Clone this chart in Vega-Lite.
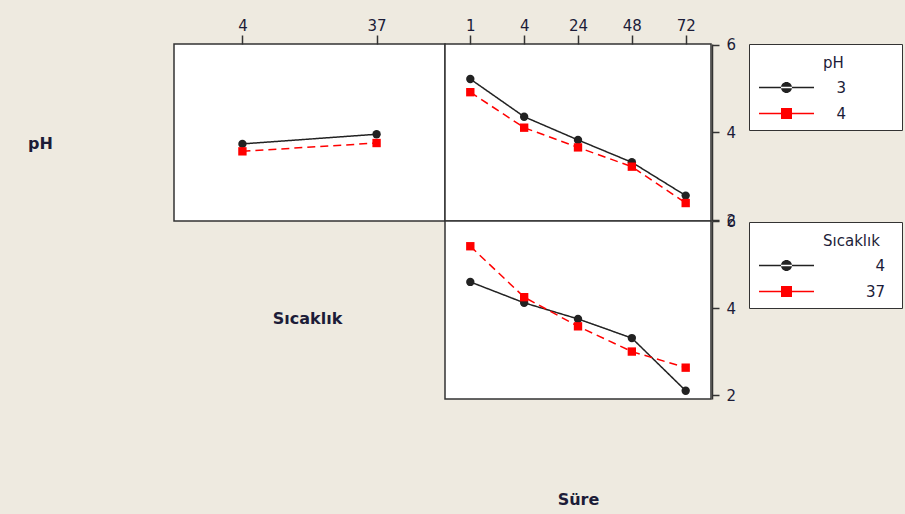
{
  "$schema": "https://vega.github.io/schema/vega-lite/v6.json",
  "background": "#EEEAE0",
  "padding": {"left": 26, "top": 17, "right": 2, "bottom": 10},
  "config": {
    "font": "DejaVu Sans",
    "view": {"stroke": "#333333", "strokeWidth": 1.5, "fill": "white"},
    "axis": {
      "labelFont": "DejaVu Sans", "labelFontSize": 15, "labelColor": "#1c1c38",
      "tickColor": "#333333", "domainColor": "#333333", "tickWidth": 1.5, "domainWidth": 1.5,
      "grid": false,
      "titleFont": "DejaVu Sans", "titleFontSize": 16, "titleFontWeight": "bold", "titleColor": "#1c1c38"
    },
    "legend": {
      "labelFont": "DejaVu Sans", "labelFontSize": 15, "labelColor": "#1c1c38",
      "titleFont": "DejaVu Sans", "titleFontSize": 15, "titleFontWeight": "normal", "titleColor": "#1c1c38",
      "strokeColor": "#333333", "fillColor": "white", "padding": 8,
      "rowPadding": 10, "titlePadding": 13, "symbolSize": 121, "labelAlign": "right"
    }
  },
  "datasets": {
    "phTemp": [
      {"Sicaklik": "4", "pH": "3", "mean": 3.74},
      {"Sicaklik": "37", "pH": "3", "mean": 3.96},
      {"Sicaklik": "4", "pH": "4", "mean": 3.57},
      {"Sicaklik": "37", "pH": "4", "mean": 3.76}
    ],
    "phTime": [
      {"Sure": "1", "pH": "3", "mean": 5.22},
      {"Sure": "4", "pH": "3", "mean": 4.36},
      {"Sure": "24", "pH": "3", "mean": 3.83},
      {"Sure": "48", "pH": "3", "mean": 3.32},
      {"Sure": "72", "pH": "3", "mean": 2.56},
      {"Sure": "1", "pH": "4", "mean": 4.92},
      {"Sure": "4", "pH": "4", "mean": 4.11},
      {"Sure": "24", "pH": "4", "mean": 3.66},
      {"Sure": "48", "pH": "4", "mean": 3.22},
      {"Sure": "72", "pH": "4", "mean": 2.39}
    ],
    "tempTime": [
      {"Sure": "1", "Sicaklik": "4", "mean": 4.60},
      {"Sure": "4", "Sicaklik": "4", "mean": 4.12},
      {"Sure": "24", "Sicaklik": "4", "mean": 3.75},
      {"Sure": "48", "Sicaklik": "4", "mean": 3.31},
      {"Sure": "72", "Sicaklik": "4", "mean": 2.10},
      {"Sure": "1", "Sicaklik": "37", "mean": 5.42},
      {"Sure": "4", "Sicaklik": "37", "mean": 4.25},
      {"Sure": "24", "Sicaklik": "37", "mean": 3.58},
      {"Sure": "48", "Sicaklik": "37", "mean": 3.00},
      {"Sure": "72", "Sicaklik": "37", "mean": 2.63}
    ]
  },
  "columns": 2,
  "spacing": 0,
  "bounds": "flush",
  "align": "each",
  "resolve": {
    "scale": {"x": "independent", "y": "independent", "color": "independent", "strokeDash": "independent"},
    "legend": {"color": "independent", "strokeDash": "independent"}
  },
  "concat": [
    {
      "width": 271, "height": 177,
      "data": {"name": "phTemp"},
      "encoding": {
        "x": {"field": "Sicaklik", "type": "ordinal",
          "scale": {"type": "point", "domain": ["4", "37"], "padding": 0.51},
          "axis": {"orient": "top", "title": null, "labelAngle": 0, "tickSize": 9, "labelPadding": 2, "domain": false}},
        "y": {"field": "mean", "type": "quantitative",
          "scale": {"domain": [1.98, 6.02], "nice": false, "zero": false},
          "axis": {"orient": "left", "labels": false, "ticks": false, "domain": false, "title": "pH",
            "titleAngle": 0, "titleX": -134, "titleY": 99, "titleAlign": "center", "titleBaseline": "middle"}},
        "color": {"field": "pH", "type": "nominal", "scale": {"domain": ["3", "4"], "range": ["#222222", "#ff0000"]}, "legend": null}
      },
      "layer": [
        {"mark": {"type": "line", "strokeWidth": 1.5},
         "encoding": {"strokeDash": {"field": "pH", "type": "nominal", "scale": {"domain": ["3", "4"], "range": [[1, 0], [8, 5]]}, "legend": null}}},
        {"transform": [{"filter": "datum.pH == '3'"}],
         "mark": {"type": "point", "filled": true, "size": 70, "opacity": 1, "shape": "circle"}},
        {"transform": [{"filter": "datum.pH == '4'"}],
         "mark": {"type": "point", "filled": true, "size": 70, "opacity": 1, "shape": "square"}}
      ]
    },
    {
      "width": 266, "height": 177,
      "data": {"name": "phTime"},
      "encoding": {
        "x": {"field": "Sure", "type": "ordinal",
          "scale": {"type": "point", "domain": ["1", "4", "24", "48", "72"], "padding": 0.47},
          "axis": {"orient": "top", "title": null, "labelAngle": 0, "tickSize": 9, "labelPadding": 2, "domain": false}},
        "y": {"field": "mean", "type": "quantitative",
          "scale": {"domain": [1.98, 6.02], "nice": false, "zero": false},
          "axis": {"orient": "right", "values": [2, 4, 6], "title": null, "tickSize": 7, "labelPadding": 7, "offset": 1}},
        "color": {"field": "pH", "type": "nominal", "scale": {"domain": ["3", "4"], "range": ["#222222", "#ff0000"]},
          "legend": {"title": "pH", "orient": "none", "legendX": 304, "legendY": 0, "labelOffset": 74, "titleAnchor": "start",
            "encoding": {
              "title": {"dx": {"value": 66}, "dy": {"value": 4}},
              "symbols": {
                "shape": {"value": {"expr": "datum.index === 0 ? 'M-1,-0.14H9V0.14H-1ZM3,0A1,1 0 1,0 5,0A1,1 0 1,0 3,0ZM23.5,0' : 'M-1,-0.14H9V0.14H-1ZM3,-1H5V1H3ZM23.5,0'"}},
                "fill": {"value": {"expr": "datum.index === 0 ? '#222222' : '#ff0000'"}},
                "strokeWidth": {"value": 0},
                "opacity": {"value": 1}
              }
            }}}
      },
      "layer": [
        {"mark": {"type": "line", "strokeWidth": 1.5},
         "encoding": {"strokeDash": {"field": "pH", "type": "nominal", "scale": {"domain": ["3", "4"], "range": [[1, 0], [8, 5]]}, "legend": null}}},
        {"transform": [{"filter": "datum.pH == '3'"}],
         "mark": {"type": "point", "filled": true, "size": 70, "opacity": 1, "shape": "circle"}},
        {"transform": [{"filter": "datum.pH == '4'"}],
         "mark": {"type": "point", "filled": true, "size": 70, "opacity": 1, "shape": "square"}}
      ]
    },
    {
      "width": 271, "height": 178,
      "view": {"stroke": null, "fill": null},
      "data": {"values": [{"label": "Sıcaklık"}]},
      "mark": {"type": "text", "font": "DejaVu Sans", "fontSize": 16, "fontWeight": "bold", "color": "#1c1c38", "dy": 9, "dx": -2},
      "encoding": {"text": {"field": "label", "type": "nominal"}}
    },
    {
      "width": 266, "height": 178,
      "data": {"name": "tempTime"},
      "encoding": {
        "x": {"field": "Sure", "type": "ordinal",
          "scale": {"type": "point", "domain": ["1", "4", "24", "48", "72"], "padding": 0.47},
          "axis": {"orient": "bottom", "labels": false, "ticks": false, "domain": false, "title": "Süre",
            "titleY": 100, "titleBaseline": "middle"}},
        "y": {"field": "mean", "type": "quantitative",
          "scale": {"domain": [1.91, 6.0], "nice": false, "zero": false},
          "axis": {"orient": "right", "values": [2, 4, 6], "title": null, "tickSize": 7, "labelPadding": 7, "offset": 1}},
        "color": {"field": "Sicaklik", "type": "nominal", "scale": {"domain": ["4", "37"], "range": ["#222222", "#ff0000"]},
          "legend": {"title": "Sıcaklık", "orient": "none", "legendX": 304, "legendY": 1, "labelOffset": 113, "titleAnchor": "start",
            "encoding": {
              "title": {"dx": {"value": 66}, "dy": {"value": 4}},
              "symbols": {
                "shape": {"value": {"expr": "datum.index === 0 ? 'M-1,-0.14H9V0.14H-1ZM3,0A1,1 0 1,0 5,0A1,1 0 1,0 3,0ZM23.5,0' : 'M-1,-0.14H9V0.14H-1ZM3,-1H5V1H3ZM23.5,0'"}},
                "fill": {"value": {"expr": "datum.index === 0 ? '#222222' : '#ff0000'"}},
                "strokeWidth": {"value": 0},
                "opacity": {"value": 1}
              }
            }}}
      },
      "layer": [
        {"mark": {"type": "line", "strokeWidth": 1.5},
         "encoding": {"strokeDash": {"field": "Sicaklik", "type": "nominal", "scale": {"domain": ["4", "37"], "range": [[1, 0], [8, 5]]}, "legend": null}}},
        {"transform": [{"filter": "datum.Sicaklik == '4'"}],
         "mark": {"type": "point", "filled": true, "size": 70, "opacity": 1, "shape": "circle"}},
        {"transform": [{"filter": "datum.Sicaklik == '37'"}],
         "mark": {"type": "point", "filled": true, "size": 70, "opacity": 1, "shape": "square"}}
      ]
    }
  ]
}
